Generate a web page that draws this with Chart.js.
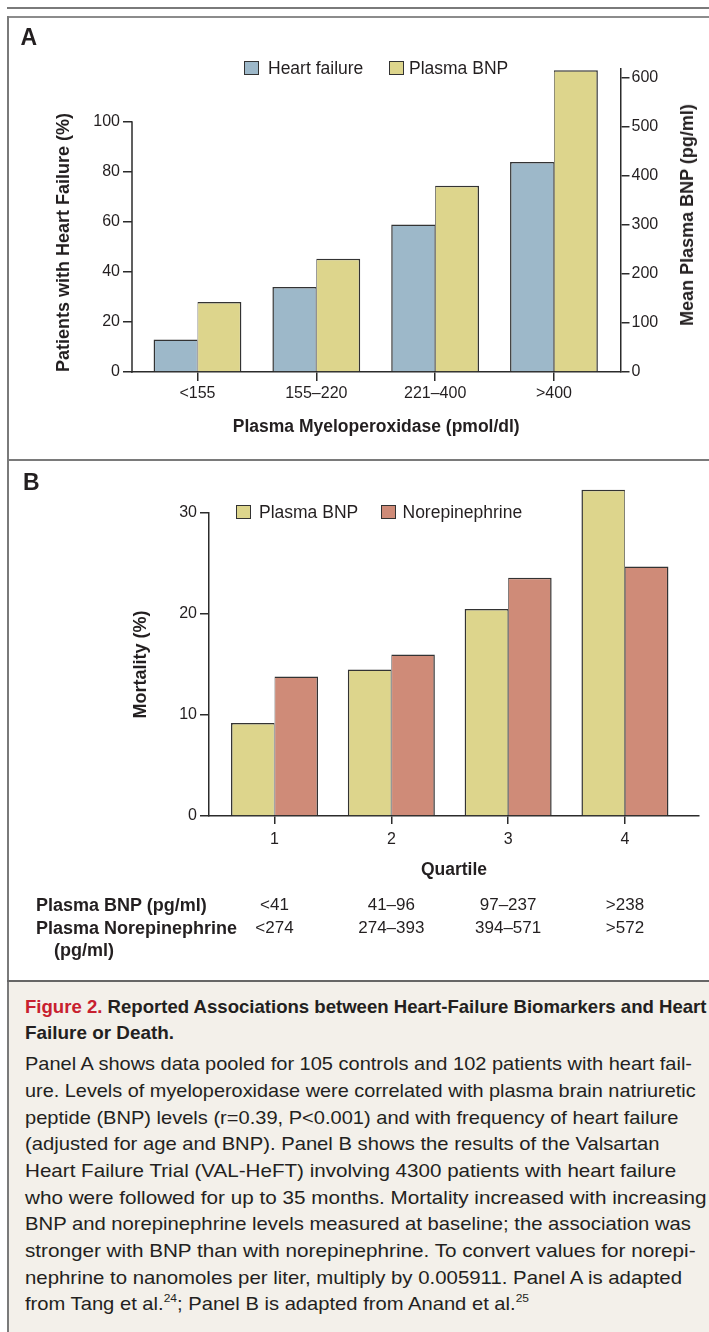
<!DOCTYPE html>
<html lang="en"><head><meta charset="utf-8">
<title>Figure 2</title>
<script src="https://cdn.jsdelivr.net/npm/chart.js@4.4.1/dist/chart.umd.min.js"></script>
<style>
html,body{margin:0;padding:0;}
body{width:709px;height:1332px;position:relative;overflow:hidden;background:#fff;font-family:'Liberation Sans',Arial,sans-serif;color:#231f20;}
.r{position:absolute;background:#7a7a7a;}
.t{position:absolute;white-space:nowrap;}
canvas{position:absolute;left:0;}
.sw{position:absolute;box-sizing:border-box;width:15px;height:14px;border:1.5px solid #333;}
.lg{font-size:17.5px;line-height:20px;}
.pl{font-weight:bold;font-size:23px;line-height:23px;}
.rowlab{font-weight:bold;font-size:18px;line-height:22px;}
.val{font-size:17px;line-height:22px;transform:translateX(-50%);}
.ytit{font-weight:bold;font-size:18px;line-height:22px;transform:translate(-50%,-50%) rotate(-90deg);}
.cap{font-size:18.5px;line-height:22px;transform-origin:0 0;}
.capt{font-weight:bold;}
.red{color:#c8202f;}
sup{font-size:11px;line-height:0;vertical-align:8px;}
</style></head>
<body>
<!-- frame -->
<div class="r" style="left:7px;top:7px;width:702px;height:2px;"></div>
<div class="r" style="left:7px;top:16px;width:702px;height:2px;background:#8c8c8c"></div>
<div class="r" style="left:7px;top:16px;width:2px;height:1316px;"></div>
<div class="r" style="left:7px;top:459px;width:702px;height:2px;"></div>
<div style="position:absolute;left:9px;top:982px;width:700px;height:350px;background:#f3f0ea;"></div>
<div class="r" style="left:7px;top:980px;width:702px;height:2px;background:#666"></div>

<canvas id="cA" width="709" height="460" style="top:0;width:709px;height:460px"></canvas>
<canvas id="cB" width="709" height="440" style="top:460px;width:709px;height:440px"></canvas>

<!-- panel letters -->
<div class="t pl" style="left:20.5px;top:26px;">A</div>
<div class="t pl" style="left:23px;top:471px;">B</div>

<!-- legends -->
<div class="sw" style="left:244px;top:61px;background:#9db8c9"></div>
<div class="t lg" style="left:268px;top:58px;">Heart failure</div>
<div class="sw" style="left:389px;top:61px;background:#ddd58c"></div>
<div class="t lg" style="left:409px;top:58px;">Plasma BNP</div>

<div class="sw" style="left:236px;top:505px;background:#ddd58c"></div>
<div class="t lg" style="left:259px;top:501.5px;">Plasma BNP</div>
<div class="sw" style="left:381px;top:505px;background:#cf8b78"></div>
<div class="t lg" style="left:402.5px;top:501.5px;">Norepinephrine</div>

<!-- right axis title A -->
<div class="t ytit" style="left:687px;top:215px;">Mean Plasma BNP (pg/ml)</div>

<!-- table under B -->
<div class="t rowlab" style="left:36px;top:894px;">Plasma BNP (pg/ml)</div>
<div class="t rowlab" style="left:36px;top:917px;">Plasma Norepinephrine</div>
<div class="t rowlab" style="left:54px;top:939px;">(pg/ml)</div>
<div id="tbl"></div>

<!-- caption -->
<div class="t cap capt" data-w="681.5" style="left:25px;top:996px;"><span class="red">Figure 2.</span> Reported Associations between Heart-Failure Biomarkers and Heart</div>
<div class="t cap capt" data-w="149" style="left:25px;top:1021.5px;">Failure or Death.</div>
<div class="t cap" data-w="667" style="left:25px;top:1053.3px;">Panel A shows data pooled for 105 controls and 102 patients with heart fail-</div>
<div class="t cap" data-w="670.6" style="left:25px;top:1080px;">ure. Levels of myeloperoxidase were correlated with plasma brain natriuretic</div>
<div class="t cap" data-w="653.4" style="left:25px;top:1106.7px;">peptide (BNP) levels (r=0.39, P&lt;0.001) and with frequency of heart failure</div>
<div class="t cap" data-w="634.4" style="left:25px;top:1133.3px;">(adjusted for age and BNP). Panel B shows the results of the Valsartan</div>
<div class="t cap" data-w="651.2" style="left:25px;top:1160px;">Heart Failure Trial (VAL-HeFT) involving 4300 patients with heart failure</div>
<div class="t cap" data-w="681.5" style="left:25px;top:1186.7px;">who were followed for up to 35 months. Mortality increased with increasing</div>
<div class="t cap" data-w="666" style="left:25px;top:1213.3px;">BNP and norepinephrine levels measured at baseline; the association was</div>
<div class="t cap" data-w="670.6" style="left:25px;top:1240px;">stronger with BNP than with norepinephrine. To convert values for norepi-</div>
<div class="t cap" data-w="657" style="left:25px;top:1266.7px;">nephrine to nanomoles per liter, multiply by 0.005911. Panel A is adapted</div>
<div class="t cap" data-w="504" style="left:25px;top:1293.3px;">from Tang et al.<sup>24</sup>; Panel B is adapted from Anand et al.<sup>25</sup></div>

<script>
// ---------- data ----------
const mpoCategories = ['<155', '155\u2013220', '221\u2013400', '>400'];
const heartFailurePct = [13, 34, 59, 84];
const plasmaBnpMean = [143, 231, 380, 616];
const hfTicks = [0, 20, 40, 60, 80, 100];
const bnpTicks = [0, 100, 200, 300, 400, 500, 600];

const quartiles = ['1', '2', '3', '4'];
const mortalityByBnp = [9.2, 14.5, 20.5, 32.3];
const mortalityByNe = [13.8, 16.0, 23.6, 24.7];
const mortalityTicks = [0, 10, 20, 30];
const bnpRanges = ['<41', '41\u201396', '97\u2013237', '>238'];
const neRanges = ['<274', '274\u2013393', '394\u2013571', '>572'];

// ---------- style ----------
const FONT = "'Liberation Sans', Arial, sans-serif";
const TXT = '#231f20';
const AX = '#2b2b2b';
const BLUE = '#9db8c9', YELLOW = '#ddd58c', RED = '#cf8b78', EDGE = '#333333';
const tickFont = {family: FONT, size: 16};
const titleFont = {family: FONT, size: 18, weight: 'bold'};
const xTitleFont = {family: FONT, size: 17.5, weight: 'bold'};

Chart.defaults.font.family = FONT;
Chart.defaults.color = TXT;

const leftBorder = {
  id: 'leftBorder',
  afterDatasetsDraw(chart, args, opts) {
    const s = chart.scales[opts.scale];
    if (!s) return;
    const ctx = chart.ctx;
    ctx.save();
    ctx.strokeStyle = AX; ctx.lineWidth = 1.5;
    ctx.beginPath();
    ctx.moveTo(chart.chartArea.left, s.getPixelForValue(s.min) + 0.75);
    ctx.lineTo(chart.chartArea.left, s.getPixelForValue(opts.top) - 0.75);
    ctx.stroke();
    ctx.restore();
  }
};

function pts(arr) { return arr.map((v, i) => ({x: i, y: v})); }
function setTicks(list) { return s => { s.ticks = list.map(v => ({value: v})); }; }
const leftBar = {left: 1.5, top: 1.5, right: 0.75, bottom: 0};
const rightBar = {left: 0.75, top: 1.5, right: 1.5, bottom: 0};

// ---------- Panel A ----------
new Chart(document.getElementById('cA'), {
  type: 'bar',
  data: {
    datasets: [
      {label: 'Heart failure', data: pts(heartFailurePct), yAxisID: 'yL',
       backgroundColor: BLUE, borderColor: EDGE, borderWidth: leftBar, borderSkipped: 'start',
       categoryPercentage: 0.739, barPercentage: 1, clip: false},
      {label: 'Plasma BNP', data: pts(plasmaBnpMean), yAxisID: 'yR',
       backgroundColor: YELLOW, borderColor: EDGE, borderWidth: rightBar, borderSkipped: 'start',
       categoryPercentage: 0.739, barPercentage: 1, clip: false}
    ]
  },
  options: {
    responsive: false, animation: false, devicePixelRatio: 1,
    layout: {padding: {top: 69, left: 0, right: 0, bottom: 0}},
    plugins: {legend: {display: false}, tooltip: {enabled: false}, leftBorder: {scale: 'yL', top: 100}},
    scales: {
      x: {
        type: 'linear', position: 'bottom', min: -0.551, max: 3.56, z: 1, offset: false,
        afterBuildTicks: setTicks([0, 1, 2, 3]),
        ticks: {font: tickFont, color: TXT, padding: 3, maxRotation: 0, autoSkip: false,
                callback: v => mpoCategories[v]},
        grid: {offset: false, drawOnChartArea: false, tickLength: 9, color: AX, lineWidth: 1.5},
        border: {display: true, color: AX, width: 1.5},
        title: {display: true, text: 'Plasma Myeloperoxidase (pmol/dl)', font: xTitleFont, color: TXT,
                padding: {top: 0, bottom: 22.5}},
        afterFit: s => { s.height = 88; }
      },
      yL: {
        type: 'linear', position: 'left', min: 0, max: (372 - 69) / 2.5,
        afterBuildTicks: setTicks(hfTicks),
        ticks: {font: tickFont, color: TXT, padding: 3},
        grid: {drawOnChartArea: false, tickLength: 9, color: AX, lineWidth: 1.5},
        border: {display: false},
        title: {display: true, text: 'Patients with Heart Failure (%)', align: 'start', font: titleFont,
                color: TXT, padding: {top: 53.7, bottom: 0}},
        afterFit: s => { s.width = 132; }
      },
      yR: {
        type: 'linear', position: 'right', min: 0, max: (372 - 69) / 0.49,
        afterBuildTicks: setTicks(bnpTicks),
        ticks: {font: tickFont, color: TXT, padding: 2},
        grid: {drawOnChartArea: false, tickLength: 9, color: AX, lineWidth: 1.5},
        border: {display: true, color: AX, width: 1.5},
        afterFit: s => { s.width = 88.5; }
      }
    }
  },
  plugins: [leftBorder]
});

// ---------- Panel B ----------
const chartB = new Chart(document.getElementById('cB'), {
  type: 'bar',
  data: {
    datasets: [
      {label: 'Plasma BNP', data: pts(mortalityByBnp), yAxisID: 'y',
       backgroundColor: YELLOW, borderColor: EDGE, borderWidth: leftBar, borderSkipped: 'start',
       categoryPercentage: 0.745, barPercentage: 1, clip: false},
      {label: 'Norepinephrine', data: pts(mortalityByNe), yAxisID: 'y',
       backgroundColor: RED, borderColor: EDGE, borderWidth: rightBar, borderSkipped: 'start',
       categoryPercentage: 0.745, barPercentage: 1, clip: false}
    ]
  },
  options: {
    responsive: false, animation: false, devicePixelRatio: 1,
    layout: {padding: {top: 53, left: 0, right: 10, bottom: 0}},
    plugins: {legend: {display: false}, tooltip: {enabled: false}},
    scales: {
      x: {
        type: 'linear', position: 'bottom', min: -0.561, max: 3.634, z: 1, offset: false,
        afterBuildTicks: setTicks([0, 1, 2, 3]),
        ticks: {font: tickFont, color: TXT, padding: 6, maxRotation: 0, autoSkip: false,
                callback: v => quartiles[v]},
        grid: {offset: false, drawOnChartArea: false, tickLength: 8, color: AX, lineWidth: 1.5},
        border: {display: true, color: AX, width: 1.5},
        title: {display: true, text: 'Quartile', font: xTitleFont, color: TXT,
                padding: {top: 0, bottom: 19.5}},
        afterFit: s => { s.height = 84; }
      },
      y: {
        type: 'linear', position: 'left', min: 0, max: 30,
        afterBuildTicks: setTicks(mortalityTicks),
        ticks: {font: tickFont, color: TXT, padding: 3},
        grid: {drawOnChartArea: false, tickLength: 9, color: AX, lineWidth: 1.5},
        border: {display: true, color: AX, width: 1.5},
        title: {display: true, text: 'Mortality (%)', font: titleFont, color: TXT,
                padding: {top: 130.5, bottom: 0}},
        afterFit: s => { s.width = 209; }
      }
    }
  }
});

// ---------- quartile range table, aligned with Panel B categories ----------
const tbl = document.getElementById('tbl');
const xsB = chartB.scales.x;
[[bnpRanges, 894], [neRanges, 917]].forEach(([row, top]) => {
  row.forEach((txt, i) => {
    const d = document.createElement('div');
    d.className = 't val';
    d.style.left = xsB.getPixelForValue(i) + 'px';
    d.style.top = top + 'px';
    d.textContent = txt;
    tbl.appendChild(d);
  });
});

// ---------- fit caption lines to the reference line lengths ----------
document.querySelectorAll('.cap').forEach(el => {
  const w = el.getBoundingClientRect().width;
  const target = parseFloat(el.dataset.w);
  if (w > 0) el.style.transform = 'scaleX(' + (target / w).toFixed(4) + ')';
});
</script>
</body></html>
